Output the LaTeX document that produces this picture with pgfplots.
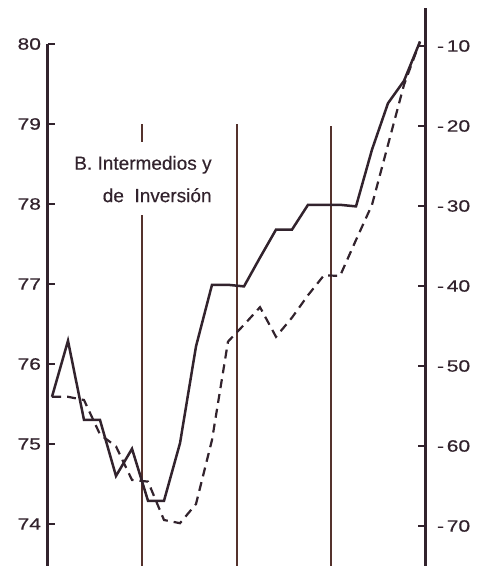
\documentclass[border=0pt]{standalone}
\usepackage{pgfplots}
\pgfplotsset{compat=1.18}
\usepackage{fontspec}
\setmainfont{Liberation Sans}
\newfontfamily\tickfont[FakeStretch=1.28, FakeBold=0.6]{Liberation Sans}
\newfontfamily\titlefont[FakeBold=0.4]{Liberation Sans}
\definecolor{ink}{RGB}{50,35,45}
\definecolor{vline}{RGB}{85,50,45}

\pgfplotstableread{
k solid dashed
0 75.59 75.59
1 76.29 75.59
2 75.30 75.55
3 75.30 75.12
4 74.60 74.97
5 74.94 74.55
6 74.29 74.53
7 74.29 74.05
8 75.01 74.01
9 76.22 74.25
10 76.99 75.05
11 76.99 76.28
12 76.97 76.49
13 77.33 76.71
14 77.68 76.34
15 77.68 76.58
16 77.99 76.86
17 77.99 77.11
18 77.99 77.10
19 77.97 77.55
20 78.68 77.99
21 79.26 78.74
22 79.54 79.49
23 80.03 80.03
}\datatable

\begin{document}
\begin{tikzpicture}
\useasboundingbox (0pt,0pt) rectangle (238.5pt,283pt);
% right axis
\begin{axis}[
  at={(24pt,0pt)}, anchor=south west,
  scale only axis, width=188.5pt, height=279pt,
  xmin=-0.25, xmax=23.3125, ymin=-75, ymax=-5.25,
  axis x line=none,
  axis y line*=right,
  y axis line style={-, line width=1.5pt, ink},
  ytick={-70,-60,-50,-40,-30,-20,-10},
  yticklabels={-\,70,-\,60,-\,50,-\,40,-\,30,-\,20,-\,10},
  ytick pos=right, yticklabel pos=right,
  tick align=inside,
  major tick length=3.5pt,
  every tick/.style={ink, line width=0.8pt},
  yticklabel style={font=\tickfont\fontsize{8.2}{10}\selectfont, text=ink, xshift=2.5pt},
]
\end{axis}
% left axis with data
\begin{axis}[
  at={(24pt,0pt)}, anchor=south west,
  scale only axis, width=188.5pt, height=261pt,
  xmin=-0.25, xmax=23.3125, ymin=73.475, ymax=80,
  axis x line=none,
  axis y line*=left,
  y axis line style={-, line width=1.5pt, ink},
  ytick={74,75,76,77,78,79,80},
  yticklabels={74,75,76,77,78,79,80},
  ytick pos=left, yticklabel pos=left,
  tick align=inside,
  major tick length=3.5pt,
  every tick/.style={ink, line width=0.8pt},
  yticklabel style={font=\tickfont\fontsize{8.2}{10}\selectfont, text=ink},
  clip=false,
]
% vertical separators
\addplot[vline, line width=0.7pt] coordinates {(5.625,73.475) (5.625,77.86)};
\addplot[vline, line width=0.7pt] coordinates {(5.625,78.775) (5.625,79.0)};
\addplot[vline, line width=0.7pt] coordinates {(11.5625,73.475) (11.5625,79.0)};
\addplot[vline, line width=0.7pt] coordinates {(17.4375,73.475) (17.4375,78.97)};
% series
\addplot[ink, line width=1.1pt, dash pattern=on 4.5pt off 3pt] table[x=k, y=dashed] {\datatable};
\addplot[ink, line width=1.25pt] table[x=k, y=solid] {\datatable};
% title text
\node[anchor=east, text=ink, font=\titlefont\fontsize{9.5}{11}\selectfont, inner sep=0pt] at (axis cs:10,78.49) {B.\ Intermedios y};
\node[anchor=east, text=ink, font=\titlefont\fontsize{9.5}{11}\selectfont, inner sep=0pt] at (axis cs:10,78.11) {de\ \ Inversión};
\end{axis}
\end{tikzpicture}
\end{document}
